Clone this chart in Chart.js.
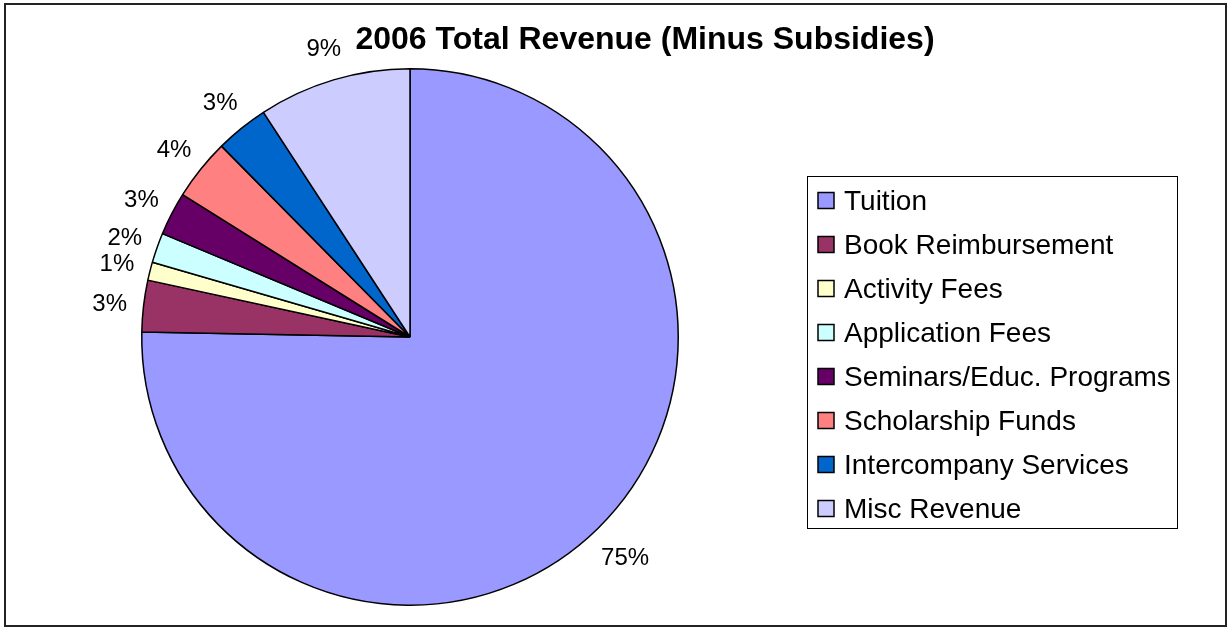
<!DOCTYPE html>
<html>
<head>
<meta charset="utf-8">
<script src="https://cdn.jsdelivr.net/npm/chart.js@4.4.1/dist/chart.umd.min.js"></script>
<style>
html,body{margin:0;padding:0;background:#fff;}
#wrap{position:relative;width:1231px;height:628px;}
</style>
</head>
<body>
<div id="wrap"><canvas id="c" width="1231" height="628"></canvas></div>
<script>
const chartTitle = '2006 Total Revenue (Minus Subsidies)';
const categories = ['Tuition','Book Reimbursement','Activity Fees','Application Fees','Seminars/Educ. Programs','Scholarship Funds','Intercompany Services','Misc Revenue'];
const revenueShare = [75.3, 3.1, 1.1, 1.8, 2.6, 3.7, 3.2, 9.2];
const sliceColors = ['#9999FF','#993366','#FFFFCC','#CCFFFF','#660066','#FF8080','#0066CC','#CCCCFF'];

const FONT = '"Liberation Sans", Arial, sans-serif';

const decorPlugin = {
  id: 'decor',
  beforeDraw(chart) {
    const ctx = chart.ctx;
    ctx.save();
    ctx.fillStyle = '#fff';
    ctx.fillRect(0, 0, chart.width, chart.height);
    ctx.strokeStyle = '#222';
    ctx.lineWidth = 2;
    ctx.strokeRect(5, 4, 1221, 622);
    ctx.restore();
  },
  afterDraw(chart) {
    const ctx = chart.ctx;
    ctx.save();
    // title
    ctx.fillStyle = '#000';
    ctx.font = 'bold 32px ' + FONT;
    ctx.textAlign = 'center';
    ctx.textBaseline = 'alphabetic';
    ctx.fillText(chartTitle, 645, 48.5);

    // percentage labels
    const meta = chart.getDatasetMeta(0);
    const total = revenueShare.reduce((a, b) => a + b, 0);
    ctx.font = '24px ' + FONT;
    meta.data.forEach((arc, i) => {
      const p = arc.getProps(['x','y','startAngle','endAngle','outerRadius'], true);
      const mid = (p.startAngle + p.endAngle) / 2;
      const txt = Math.round(revenueShare[i] / total * 100) + '%';
      const w = ctx.measureText(txt).width;
      const r = p.outerRadius + 22 + w * 0.35;
      ctx.fillStyle = '#000';
      ctx.fillText(txt, p.x + Math.cos(mid) * r, p.y + Math.sin(mid) * r + 8.6);
    });

    // legend
    ctx.strokeStyle = '#000';
    ctx.lineWidth = 1;
    ctx.strokeRect(807.5, 176.5, 370, 352);
    ctx.font = '28px ' + FONT;
    ctx.textAlign = 'left';
    categories.forEach((name, i) => {
      const base = 209.5 + i * 44;
      ctx.fillStyle = sliceColors[i];
      ctx.fillRect(818, base - 17, 16, 16);
      ctx.strokeStyle = '#000';
      ctx.lineWidth = 1.5;
      ctx.strokeRect(818, base - 17, 16, 16);
      ctx.fillStyle = '#000';
      ctx.fillText(name, 844, base);
    });
    ctx.restore();
  }
};

new Chart(document.getElementById('c'), {
  type: 'pie',
  data: {
    labels: categories,
    datasets: [{
      data: revenueShare,
      backgroundColor: sliceColors,
      borderColor: '#000',
      borderWidth: 1.5,
      borderAlign: 'center'
    }]
  },
  options: {
    responsive: false,
    animation: false,
    events: [],
    layout: { padding: { top: 67, bottom: 21, left: 141, right: 552 } },
    plugins: {
      legend: { display: false },
      title: { display: false },
      tooltip: { enabled: false }
    }
  },
  plugins: [decorPlugin]
});
</script>
</body>
</html>
